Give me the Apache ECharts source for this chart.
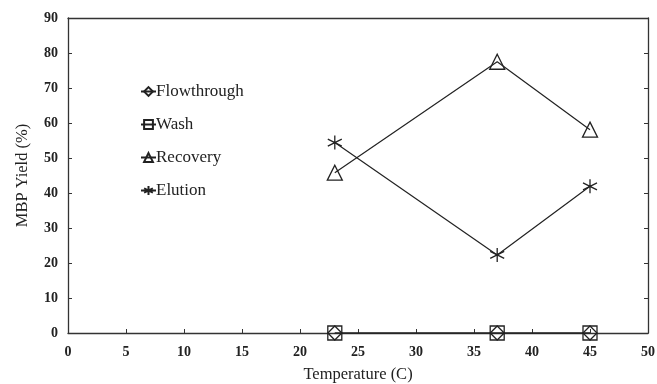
<!DOCTYPE html>
<html><head><meta charset="utf-8">
<script src="https://cdn.jsdelivr.net/npm/echarts@6/dist/echarts.min.js"></script>
<style>html,body{margin:0;padding:0;background:#fff}#c{width:657px;height:384px}</style>
</head><body><div id="c"></div>
<script>
const temps = [23, 37, 45];
const flowthrough = [0, 0, 0];
const wash = [0, 0, 0];
const recovery = [45.8, 77.5, 58.1];
const elution = [54.4, 22.3, 41.9];
const seriesNames = ['Flowthrough', 'Wash', 'Recovery', 'Elution'];

const star = 'path://M5,0L5,10M0.7,2.5L9.3,7.5M0.7,7.5L9.3,2.5';
const font = '"Liberation Serif", "Times New Roman", serif';
const pair = v => temps.map((t, i) => [t, v[i]]);

function mk(name, data, symbol, size) {
  return {
    name, type: 'line', data: pair(data), symbol, symbolSize: size, clip: false,
    showAllSymbol: true,
    lineStyle: { color: '#222', width: 1.2 },
    itemStyle: { color: 'rgba(0,0,0,0)', borderColor: '#222', borderWidth: 1.3 },
    emphasis: { disabled: true }
  };
}

const chart = echarts.init(document.getElementById('c'), null, { renderer: 'canvas' });
chart.setOption({
  animation: false,
  backgroundColor: '#fff',
  grid: { left: 68, right: 9, top: 18, bottom: 51, containLabel: false, outerBoundsMode: 'none' },
  legend: {
    orient: 'vertical', left: 135, top: 78, itemGap: 16, itemWidth: 15, itemHeight: 11,
    data: seriesNames,
    textStyle: { fontFamily: font, fontSize: 17, color: '#222', padding: [0, 0, 0, -5] },
    selectedMode: false
  },
  xAxis: [{
    type: 'value', min: 0, max: 50, interval: 5,
    name: 'Temperature (C)', nameLocation: 'middle', nameGap: 33,
    nameTextStyle: { fontFamily: font, fontSize: 16.5, color: '#222' },
    axisLine: { lineStyle: { color: '#333', width: 1.3 } },
    axisTick: { inside: true, length: 4, lineStyle: { color: '#333' } },
    axisLabel: { fontFamily: font, fontSize: 14, fontWeight: 'bold', color: '#222', margin: 12 },
    splitLine: { show: false }
  }, {
    type: 'value', min: 0, max: 50, interval: 5, position: 'top',
    axisLine: { show: true, onZero: false, lineStyle: { color: '#333', width: 1.3 } },
    axisTick: { show: false }, axisLabel: { show: false }, splitLine: { show: false }
  }],
  yAxis: [{
    type: 'value', min: 0, max: 90, interval: 10,
    name: 'MBP Yield (%)', nameLocation: 'middle', nameGap: 37,
    nameTextStyle: { fontFamily: font, fontSize: 16.5, color: '#222' },
    axisLine: { show: true, onZero: false, lineStyle: { color: '#333', width: 1.3 } },
    axisTick: { show: true, inside: true, length: 4, lineStyle: { color: '#333' } },
    axisLabel: { fontFamily: font, fontSize: 14, fontWeight: 'bold', color: '#222', margin: 10 },
    splitLine: { show: false }
  }, {
    type: 'value', min: 0, max: 90, interval: 10, position: 'right',
    axisLine: { show: true, onZero: false, lineStyle: { color: '#333', width: 1.3 } },
    axisTick: { show: true, inside: true, length: 4, lineStyle: { color: '#333' } },
    axisLabel: { show: false }, splitLine: { show: false }
  }],
  series: [
    mk('Flowthrough', flowthrough, 'diamond', 14),
    mk('Wash', wash, 'rect', 14),
    mk('Recovery', recovery, 'triangle', 15),
    mk('Elution', elution, star, 14)
  ]
});
</script></body></html>
